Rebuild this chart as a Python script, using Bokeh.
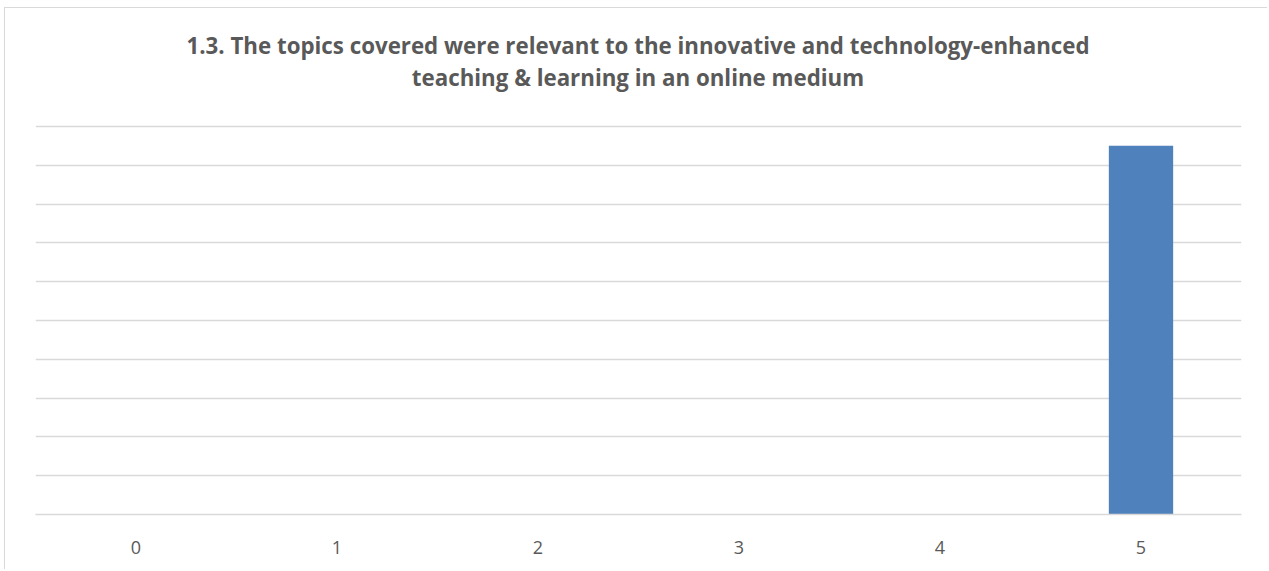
from bokeh.plotting import figure
from bokeh.models import SingleIntervalTicker, Div
from bokeh.layouts import column
from bokeh.embed import file_html
from bokeh.resources import INLINE

categories = ["0", "1", "2", "3", "4", "5"]
counts = [0, 0, 0, 0, 0, 19]
title_lines = ["1.3. The topics covered were relevant to the innovative and technology-enhanced",
               "teaching &amp; learning in an online medium"]

title = Div(
    text=("<div style=\"box-sizing:content-box; width:1258px; text-align:center; "
          "font-family:'Open Sans'; font-weight:bold; "
          "font-size:22.3px; color:#595959; line-height:32px; padding-top:22px; "
          "padding-left:4px; white-space:nowrap;\">" + "<br>".join(title_lines) + "</div>"),
    width=1262, height=110, margin=0)

p = figure(x_range=categories, y_range=(0, 20.1), width=1262, height=451,
           output_backend="svg", toolbar_location=None,
           min_border_left=30, min_border_right=26, min_border_top=6, min_border_bottom=55)

p.vbar(x=categories, top=counts, width=0.32, color="#4f81bd", line_color=None)

p.x_range.range_padding = 0
p.xgrid.grid_line_color = None
p.yaxis.visible = False
p.yaxis.ticker = SingleIntervalTicker(interval=2)
p.ygrid.ticker = SingleIntervalTicker(interval=2)
p.ygrid.grid_line_color = "#d9d9d9"
p.ygrid.grid_line_width = 1.5
p.xaxis.axis_line_color = "#d9d9d9"
p.xaxis.axis_line_width = 1.5
p.xaxis.major_tick_line_color = None
p.xaxis.minor_tick_line_color = None
p.xaxis.major_label_text_font = "Open Sans"
p.xaxis.major_label_text_font_size = "18px"
p.xaxis.major_label_text_color = "#595959"
p.xaxis.major_label_standoff = 20
p.outline_line_color = None
p.margin = 0

layout = column(title, p, spacing=0, margin=0,
                styles={"margin-left": "4px", "margin-top": "7px",
                        "border-left": "1px solid #d9d9d9", "border-top": "1px solid #d9d9d9"})

open("out.html", "w").write(file_html(layout, INLINE))
